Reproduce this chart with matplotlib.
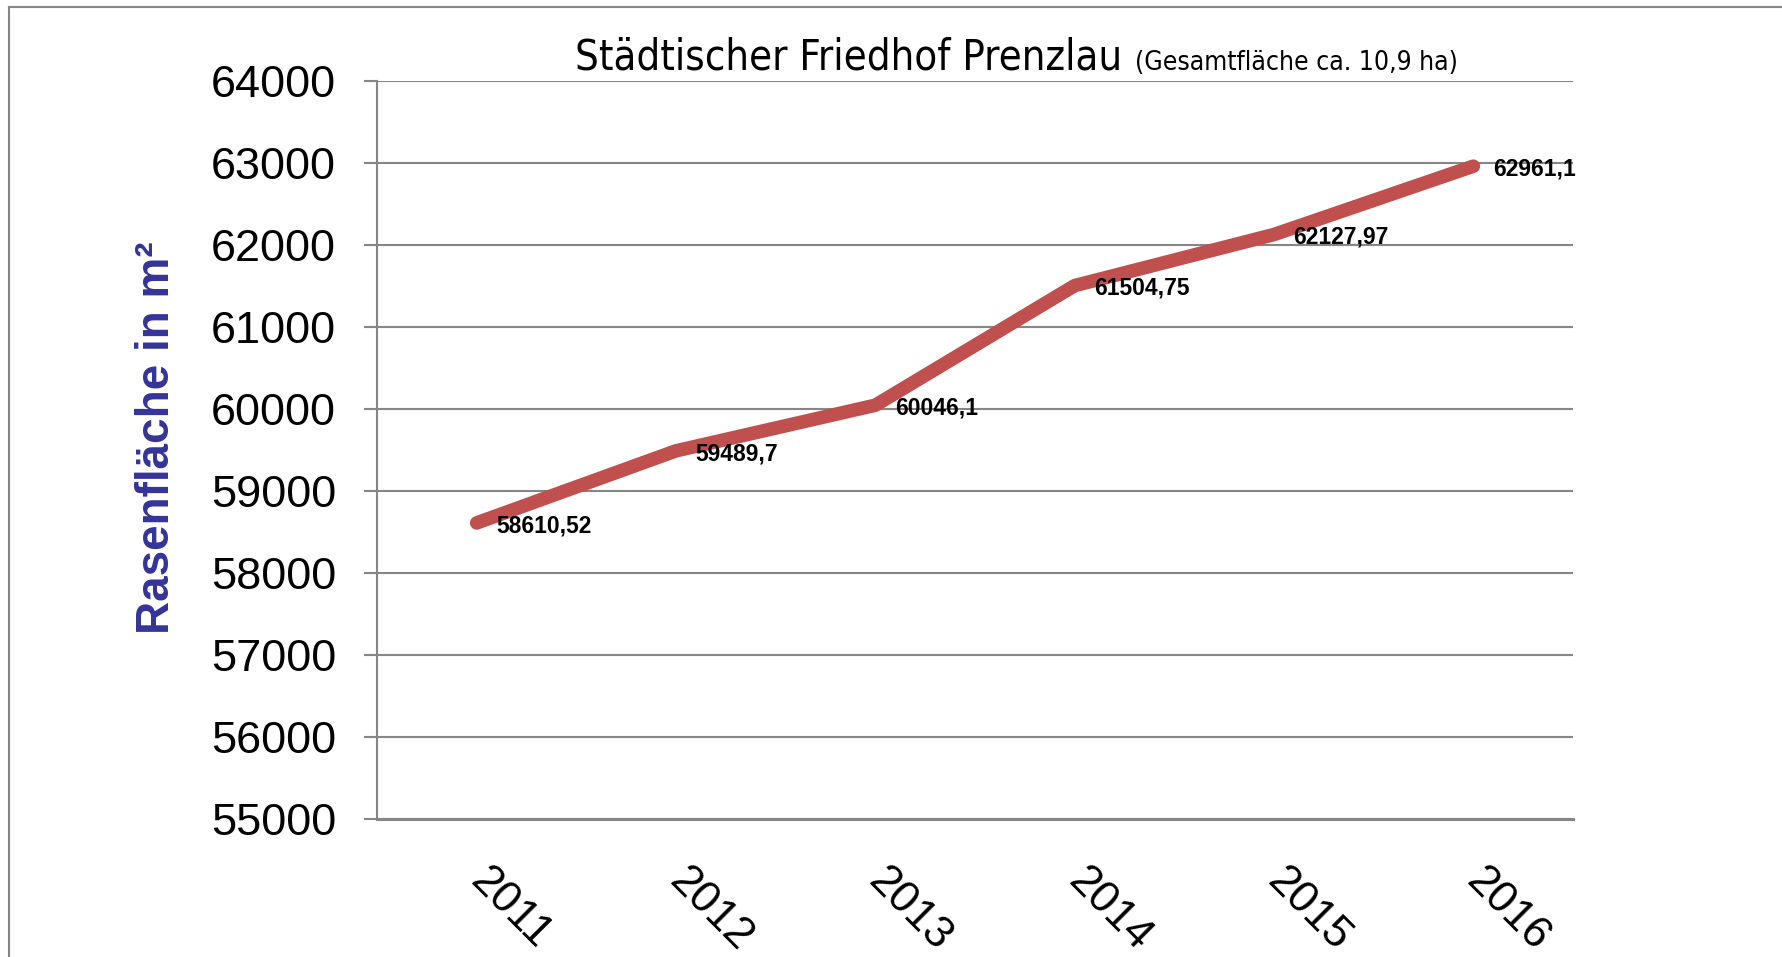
"""
Rasenfläche Städtischer Friedhof Prenzlau, 2011-2016.
"""
import matplotlib
matplotlib.use('Agg')
import matplotlib.pyplot as plt
from matplotlib import font_manager
from matplotlib.lines import Line2D

plt.rcParams['font.family'] = ['Liberation Sans', 'DejaVu Sans']

# data
years = ['2011', '2012', '2013', '2014', '2015', '2016']
rasenflaeche = [58610.52, 59489.7, 60046.1, 61504.75, 62127.97, 62961.1]
value_labels = ['58610,52', '59489,7', '60046,1', '61504,75', '62127,97', '62961,1']
y_ticks = [55000, 56000, 57000, 58000, 59000, 60000, 61000, 62000, 63000, 64000]

GRID = '#868686'
LINE_RED = '#C0504D'
LABEL_BLUE = '#333399'

installed = {f.name for f in font_manager.fontManager.ttflist}
if 'Liberation Sans Narrow' in installed:
    title_font = dict(family='Liberation Sans Narrow')
    title_size, sub_size = 36, 23.5
else:
    title_font = dict(family='DejaVu Sans', stretch='condensed')
    title_size, sub_size = 30, 19

W, H = 1783, 957
fig = plt.figure(figsize=(W / 100, H / 100), dpi=100)
ax = fig.add_axes([377 / W, 1 - 819 / H, (1573 - 377) / W, (819 - 81) / H])

x = list(range(len(years)))
ax.plot(x, rasenflaeche, color=LINE_RED, lw=9.8, solid_capstyle='round',
        solid_joinstyle='round', zorder=3)

for xi, yi, lab in zip(x, rasenflaeche, value_labels):
    ax.annotate(lab, (xi, yi), xytext=(14, -2), textcoords='offset points',
                ha='left', va='center', fontsize=16.5, fontweight='bold',
                color='black', zorder=4)

ax.set_xlim(-0.5, len(years) - 0.5)
ax.set_ylim(55000, 64000)
ax.set_yticks(y_ticks)
ax.set_yticklabels([str(t) for t in y_ticks])
ax.set_xticks(x)
ax.set_xticklabels(years, rotation=-45, ha='left', va='center',
                   rotation_mode='anchor')

ax.yaxis.grid(True, color=GRID, lw=1.5)
ax.set_axisbelow(True)
for s in ['top', 'right']:
    ax.spines[s].set_visible(False)
ax.spines['left'].set_color(GRID)
ax.spines['left'].set_linewidth(1.5)
ax.spines['bottom'].set_color(GRID)
ax.spines['bottom'].set_linewidth(2.2)

ax.tick_params(axis='y', length=9.4, width=1.5, color=GRID, labelsize=32.5, pad=20)
ax.tick_params(axis='x', length=0, labelsize=32, pad=40)

fig.text(157 / W, 1 - 438 / H, 'Rasenfläche in m²', rotation=90, ha='center',
         va='center', fontsize=33, fontweight='bold', color=LABEL_BLUE)

# title in two sizes
t1 = fig.text(575 / W, 1 - 70 / H, 'Städtischer Friedhof Prenzlau',
              fontsize=title_size, va='baseline', ha='left', **title_font)
fig.canvas.draw()
bb = t1.get_window_extent()
fig.text((bb.x1 + 13) / W, 1 - 70 / H, '(Gesamtfläche ca. 10,9 ha)',
         fontsize=sub_size, va='baseline', ha='left', **title_font)

# outer chart border (top and left visible)
fig.add_artist(Line2D([9 / W, 9 / W], [0, 1 - 7 / H], color=GRID, lw=1.5))
fig.add_artist(Line2D([9 / W, 1], [1 - 7 / H, 1 - 7 / H], color=GRID, lw=1.5))

fig.savefig('out.png', dpi=100)
